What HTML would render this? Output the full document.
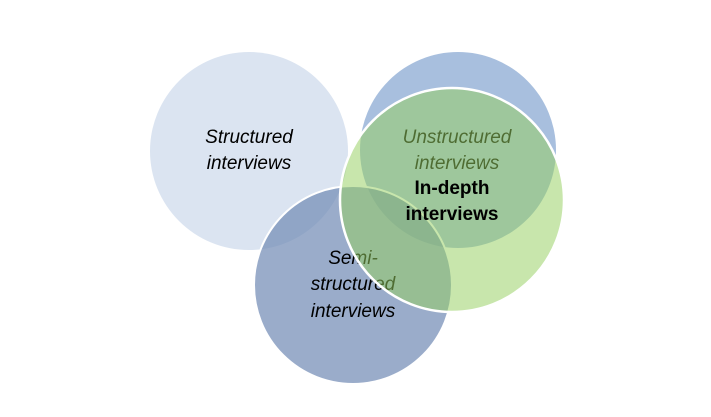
<!DOCTYPE html>
<html><head><style>
html,body{margin:0;padding:0;background:#fff;}
svg{display:block}
text{font-family:"Liberation Sans",sans-serif;font-size:19px;text-anchor:middle;}
</style></head><body>
<svg width="711" height="417" viewBox="0 0 711 417">
<circle cx="249" cy="151" r="99" fill="#dbe4f1"/>
<text x="249" y="143" font-style="italic" fill="#000">Structured</text>
<text x="249" y="169" font-style="italic" fill="#000">interviews</text>
<circle cx="458" cy="150" r="98" fill="#a8bfde"/>
<text x="457" y="143" font-style="italic" fill="#000">Unstructured</text>
<text x="457" y="169" font-style="italic" fill="#000">interviews</text>
<circle cx="353" cy="285" r="99" fill="rgba(115,140,182,0.72)" stroke="#fff" stroke-width="2"/>
<text x="353" y="264" font-style="italic" fill="#000">Semi-</text>
<text x="353" y="290" font-style="italic" fill="#000">structured</text>
<text x="353" y="317" font-style="italic" fill="#000">interviews</text>
<circle cx="452" cy="200" r="112" fill="rgba(150,208,95,0.52)" stroke="#fff" stroke-width="2.5"/>
<text x="452" y="194" font-weight="bold" fill="#000">In-depth</text>
<text x="452" y="220" font-weight="bold" fill="#000">interviews</text>
</svg>
</body></html>
